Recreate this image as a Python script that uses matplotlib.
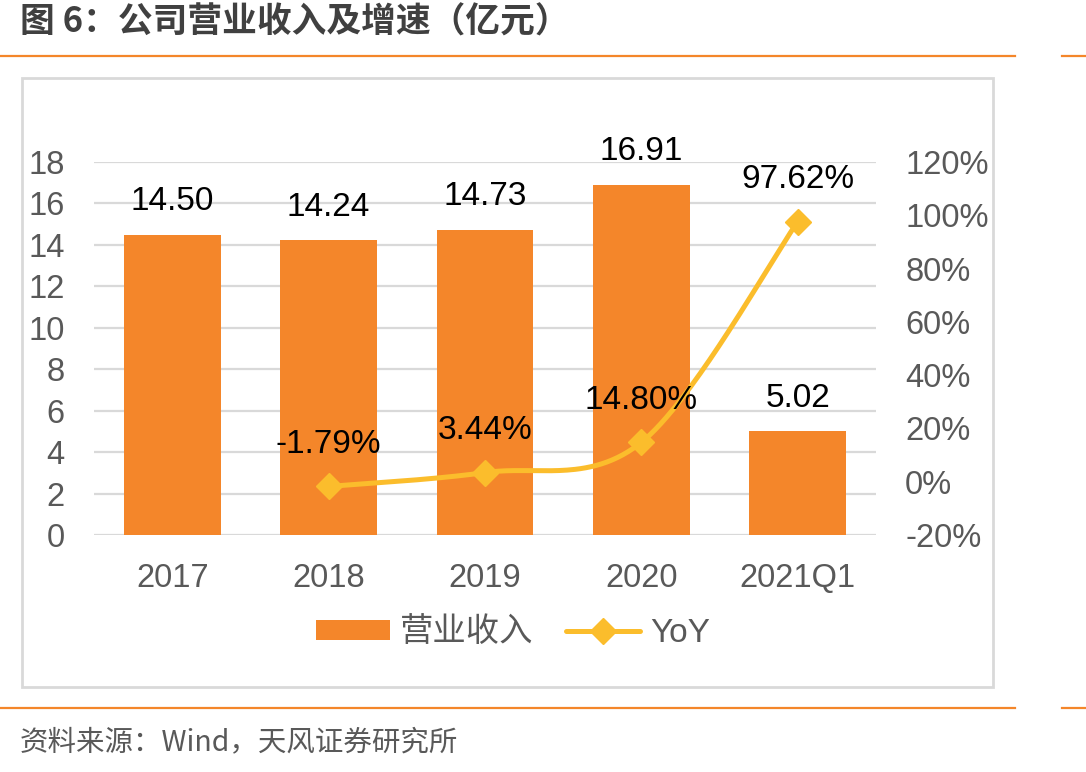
import numpy as np
import matplotlib
matplotlib.use("Agg")
import matplotlib.pyplot as plt
from matplotlib.lines import Line2D
from matplotlib.patches import Rectangle, Patch

categories = ["2017", "2018", "2019", "2020", "2021Q1"]
revenue = [14.50, 14.24, 14.73, 16.91, 5.02]
yoy = [None, -1.79, 3.44, 14.80, 97.62]
left_ticks = [0, 2, 4, 6, 8, 10, 12, 14, 16, 18]
right_ticks = [-20, 0, 20, 40, 60, 80, 100, 120]

BAR = "#F4862A"
LINE = "#FBBD2C"
TXT = "#595959"
NUMFONT = ["Liberation Sans", "Noto Sans CJK SC"]
CJK = ["Noto Sans CJK SC", "DejaVu Sans"]

W, H = 1086, 772
fig = plt.figure(figsize=(W / 100, H / 100), dpi=100)

def fx(px):
    return px / W

def fy(py):
    return 1 - py / H

# frame box
fig.add_artist(Rectangle((fx(22), fy(687)), fx(993) - fx(22), fy(78) - fy(687),
                         transform=fig.transFigure, fill=False, edgecolor="#D9D9D9", lw=2))
# orange rules
for yy in (56, 708):
    fig.add_artist(Line2D([0, fx(1015)], [fy(yy), fy(yy)], transform=fig.transFigure, color="#F4862A", lw=1.6))
    fig.add_artist(Line2D([fx(1062), 1], [fy(yy), fy(yy)], transform=fig.transFigure, color="#F4862A", lw=1.6))

fig.text(fx(20), fy(22), "图 6：公司营业收入及增速（亿元）", family=CJK, fontsize=25, fontweight="bold",
         color="#404040", va="center", ha="left")
fig.text(fx(20), fy(742), "资料来源：Wind，天风证券研究所", family=CJK, fontsize=20.5,
         color="#595959", va="center", ha="left")

ax = fig.add_axes([fx(94), fy(535), fx(876) - fx(94), fy(162) - fy(535)])
ax2 = ax.twinx()
x = np.arange(len(categories))
ax.bar(x, revenue, width=0.62, color=BAR, zorder=2)
ax.set_xlim(-0.5, len(categories) - 0.5)
ax.set_ylim(0, 18)
ax.set_yticks(left_ticks)
ax.set_yticklabels([str(t) for t in left_ticks])
ax.set_xticks(x)
ax.set_xticklabels(categories)
ax.yaxis.grid(True, color="#D9D9D9", lw=1.6, zorder=0)
ax.set_axisbelow(True)
for a in (ax, ax2):
    for s in a.spines.values():
        s.set_visible(False)
ax.tick_params(axis="both", length=0, labelsize=23.5, labelcolor=TXT)
ax.tick_params(axis="x", pad=20.5)
ax.tick_params(axis="y", pad=21)
for lab in ax.get_xticklabels() + ax.get_yticklabels():
    lab.set_family(NUMFONT)

ax2.set_ylim(-20, 120)
ax2.set_yticks(right_ticks)
ax2.set_yticklabels([f"{t}%" for t in right_ticks])
ax2.tick_params(axis="y", length=0, labelsize=23.5, labelcolor=TXT, pad=21)
for lab in ax2.get_yticklabels():
    lab.set_family(NUMFONT)

# bar labels
for xi, v in zip(x, revenue):
    ax.annotate(f"{v:.2f}", (xi, v), xytext=(0, 17.5), textcoords="offset points",
                ha="center", va="baseline", fontsize=24, family=NUMFONT, color="black")

# smooth line (Catmull-Rom in display space)
xs = np.array([xi for xi, v in zip(x, yoy) if v is not None], dtype=float)
ys = np.array([v for v in yoy if v is not None], dtype=float)
fig.canvas.draw()
P = ax2.transData.transform(np.column_stack([xs, ys]))
n = len(P)
curve = []
for i in range(n - 1):
    p0 = P[i - 1] if i > 0 else P[i]
    p1, p2 = P[i], P[i + 1]
    p3 = P[i + 2] if i + 2 < n else P[i + 1]
    c1 = p1 + (p2 - p0) / 6
    c2 = p2 - (p3 - p1) / 6
    t = np.linspace(0, 1, 60)[:, None]
    seg = (1 - t) ** 3 * p1 + 3 * (1 - t) ** 2 * t * c1 + 3 * (1 - t) * t ** 2 * c2 + t ** 3 * p2
    curve.append(seg if i == 0 else seg[1:])
curve = np.vstack(curve)
cd = ax2.transData.inverted().transform(curve)
ax2.plot(cd[:, 0], cd[:, 1], color=LINE, lw=3.6, solid_capstyle="round", zorder=3)
ax2.plot(xs, ys, linestyle="none", marker="D", markersize=13, color=LINE, zorder=4)
for xi, v in zip(xs, ys):
    ax2.annotate(f"{v:.2f}%", (xi, v), xytext=(0, 24), textcoords="offset points",
                 ha="center", va="baseline", fontsize=24, family=NUMFONT, color="black")

handles = [Patch(facecolor=BAR, edgecolor="none"),
           Line2D([], [], color=LINE, lw=3.6, marker="D", markersize=13, solid_capstyle="round")]
leg = fig.legend(handles, ["营业收入", "YoY"], loc="center", bbox_to_anchor=(fx(513), fy(633)),
                 ncol=2, frameon=False, prop={"family": ["Liberation Sans", "Noto Sans CJK SC"], "size": 24},
                 handlelength=2.2, handleheight=0.55, columnspacing=1.0, handletextpad=0.3)
for t in leg.get_texts():
    t.set_color(TXT)

fig.savefig("out.png", dpi=100)
